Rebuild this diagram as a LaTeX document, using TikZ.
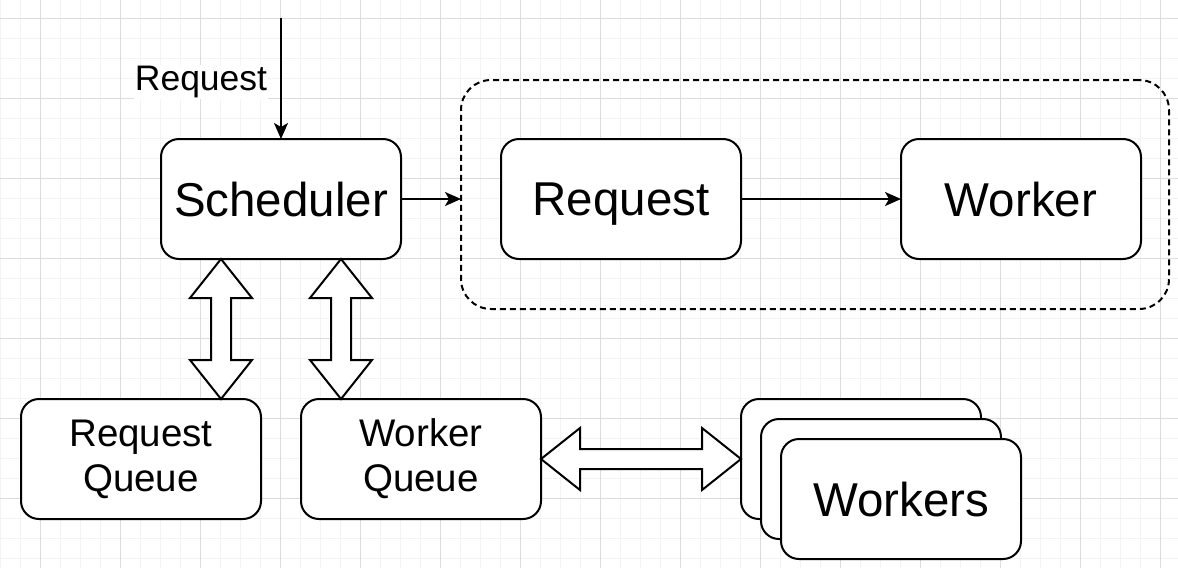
\documentclass[tikz,border=0pt]{standalone}
\usepackage{fontspec}
\setmainfont{Liberation Sans}
\usetikzlibrary{arrows.meta,calc}
\definecolor{gridminor}{HTML}{F3F3F3}
\definecolor{gridmajor}{HTML}{DCDCDC}
\tikzset{
  box/.style={draw=black, fill=white, line width=2pt, rounded corners=18pt,
    minimum width=240pt, minimum height=120pt, inner sep=0pt, outer sep=0pt,
    align=center},
  bigtext/.style={font=\fontsize{47.5}{57}\selectfont, text depth=0pt},
  midtext/.style={font=\fontsize{38.5}{45}\selectfont},
  smalltext/.style={font=\fontsize{35.5}{42}\selectfont},
  container/.style={draw=black, line width=2pt, rounded corners=30pt, dash pattern=on 6pt off 4pt,
    minimum width=708pt, minimum height=229pt, inner sep=0pt, outer sep=0pt},
  conn/.style={line width=2pt, -{Stealth[length=16pt,width=14pt,inset=4pt]}},
  fatarrow/.style={draw=black, fill=white, line width=2pt, line join=miter},
  gminor/.style={draw=gridminor, line width=1pt},
  gmajor/.style={draw=gridmajor, line width=1pt},
}
\begin{document}
\begin{tikzpicture}[x=1pt,y=-1pt]
\useasboundingbox (0,0) rectangle (1178,568);
\fill[white] (0,0) rectangle (1178,568);
% grid
\foreach \x in {0,20,...,1180} \draw[gminor] (\x,0) -- (\x,568);
\foreach \y in {-2,18,...,570} \draw[gminor] (0,\y) -- (1178,\y);
\foreach \x in {40,120,...,1180} \draw[gmajor] (\x,0) -- (\x,568);
\foreach \y in {18,98,...,570} \draw[gmajor] (0,\y) -- (1178,\y);

% nodes
\node[box, bigtext] (sched) at (281,199) {Scheduler};
\node[container] (cont) at (815,194.5) {};
\node[box, bigtext] (req) at (621,199) {Request};
\node[box, bigtext] (work) at (1021,199) {Worker};
\node[box, midtext] (rq) at (141,459) {Request\\Queue};
\node[box, midtext] (wq) at (421,459) {Worker\\Queue};
\node[box] (wb) at (861,459) {};
\node[box] (wm) at (881,479) {};
\node[box, bigtext] (wf) at (901,499) {Workers};

% incoming request
\coordinate (in) at (281,18);
\draw[conn] (in) -- (sched.north);
\node[fill=white, inner sep=1pt, smalltext] (lbl) at (201,82) {Request};

% arrows
\draw[conn] (sched.east) -- (sched.east -| cont.west);
\draw[conn] (req.east) -- (work.west);

% fat double arrows (vertical)
\draw[fatarrow] let \p1=($(sched.south)+(-60,0)$), \p2=($(rq.north)+(80,0)$) in
  (\x1,\y1) -- (\x1+31pt,\y1-39pt) -- (\x1+10pt,\y1-39pt) -- (\x1+10pt,\y2+39pt)
  -- (\x1+31pt,\y2+39pt) -- (\x2,\y2) -- (\x1-31pt,\y2+39pt) -- (\x1-10pt,\y2+39pt)
  -- (\x1-10pt,\y1-39pt) -- (\x1-31pt,\y1-39pt) -- cycle;
\draw[fatarrow] let \p1=($(sched.south)+(60,0)$), \p2=($(wq.north)+(-80,0)$) in
  (\x1,\y1) -- (\x1+31pt,\y1-39pt) -- (\x1+10pt,\y1-39pt) -- (\x1+10pt,\y2+39pt)
  -- (\x1+31pt,\y2+39pt) -- (\x2,\y2) -- (\x1-31pt,\y2+39pt) -- (\x1-10pt,\y2+39pt)
  -- (\x1-10pt,\y1-39pt) -- (\x1-31pt,\y1-39pt) -- cycle;
% fat double arrow (horizontal)
\draw[fatarrow] let \p1=(wq.east), \p2=(wb.west) in
  (\x1,\y1) -- (\x1+39pt,\y1+31pt) -- (\x1+39pt,\y1+10pt) -- (\x2-39pt,\y1+10pt)
  -- (\x2-39pt,\y1+31pt) -- (\x2,\y2) -- (\x2-39pt,\y1-31pt) -- (\x2-39pt,\y1-10pt)
  -- (\x1+39pt,\y1-10pt) -- (\x1+39pt,\y1-31pt) -- cycle;
\end{tikzpicture}
\end{document}
